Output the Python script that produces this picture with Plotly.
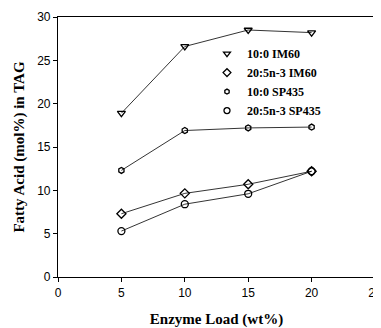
import plotly.graph_objects as go

x_load = [5, 10, 15, 20]
c10_im60 = [18.9, 26.6, 28.5, 28.2]
epa_im60 = [7.3, 9.65, 10.7, 12.2]
c10_sp435 = [12.3, 16.9, 17.2, 17.3]
epa_sp435 = [5.3, 8.4, 9.6, 12.2]

series_names = ["10:0 IM60", "20:5n-3 IM60", "10:0 SP435", "20:5n-3 SP435"]
series_vals = [c10_im60, epa_im60, c10_sp435, epa_sp435]
symbols = ["triangle-down-open", "diamond-open", "hexagon-open", "circle-open"]
sizes = [7, 7, 6, 7]

fig = go.Figure()
for name, vals, sym, sz in zip(series_names, series_vals, symbols, sizes):
    fig.add_trace(go.Scatter(
        x=x_load, y=vals, mode="lines+markers", showlegend=False,
        line=dict(color="black", width=0.8),
        marker=dict(symbol=sym, size=sz, color="black", line=dict(width=1.3, color="black")),
    ))
for name, sym, sz in zip(series_names, symbols, sizes):
    fig.add_trace(go.Scatter(
        x=[None], y=[None], mode="markers", name="<b>" + name + "</b>",
        marker=dict(symbol=sym, size=sz - 1, color="black", line=dict(width=1.3, color="black")),
    ))

# page body has an 8px margin, so the figure is sized/offset to compensate
fig.update_layout(
    width=373, height=320,
    margin=dict(l=50, r=6, t=9, b=51),
    paper_bgcolor="white", plot_bgcolor="white",
    font=dict(family="Liberation Sans, Arial", size=12, color="black"),
    legend=dict(
        x=0.47, y=0.915, xanchor="left", yanchor="top",
        bgcolor="rgba(0,0,0,0)", borderwidth=0,
        font=dict(family="Liberation Serif, Times New Roman", size=12, color="black"),
        tracegroupgap=0, itemsizing="trace",
    ),
    xaxis=dict(
        range=[0, 25], tickvals=[0, 5, 10, 15, 20, 25], automargin=False,
        ticklabeloverflow="allow",
        showline=True, linecolor="black", linewidth=1.2, mirror=True,
        ticks="outside", ticklen=4, tickcolor="black", showgrid=False, zeroline=False,
        tickfont=dict(family="Liberation Sans, Arial", size=12),
        title=dict(text="<b>Enzyme Load (wt%)</b>", standoff=14,
                   font=dict(family="Liberation Serif, Times New Roman", size=15)),
    ),
    yaxis=dict(
        range=[0, 30], tickvals=[0, 5, 10, 15, 20, 25, 30], automargin=False,
        showline=True, linecolor="black", linewidth=1.2, mirror=True,
        ticks="outside", ticklen=4, tickcolor="black", showgrid=False, zeroline=False,
        tickfont=dict(family="Liberation Sans, Arial", size=12),
        title=dict(text="<b>Fatty Acid (mol%) in TAG</b>", standoff=8,
                   font=dict(family="Liberation Serif, Times New Roman", size=15)),
    ),
)

fig.write_html("out.html")
